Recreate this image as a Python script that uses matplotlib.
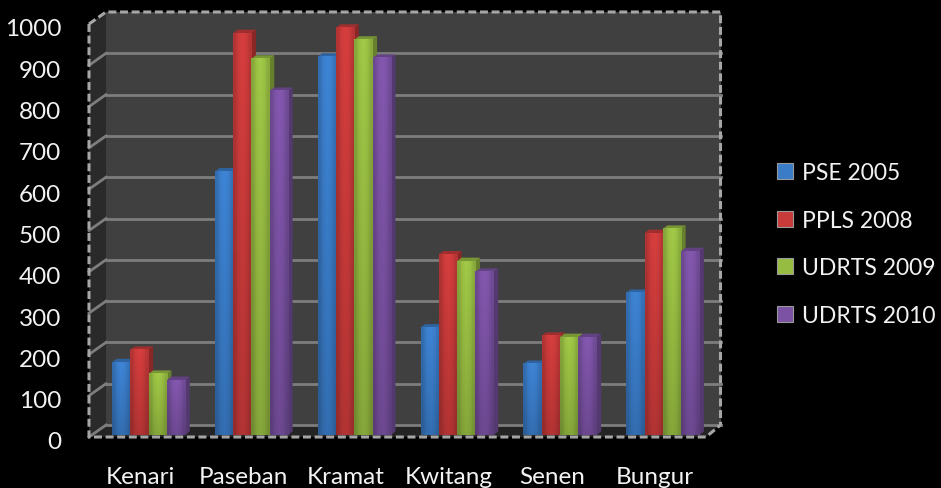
import matplotlib
matplotlib.use('Agg')
import matplotlib.pyplot as plt
import numpy as np
from matplotlib.patches import Polygon, Patch
from matplotlib.colors import to_rgb
from matplotlib.transforms import ScaledTranslation

plt.rcParams['font.family'] = ['Lato', 'DejaVu Sans']

categories = ['Kenari', 'Paseban', 'Kramat', 'Kwitang', 'Senen', 'Bungur']
pse_2005 = [176, 638, 916, 260, 172, 344]
ppls_2008 = [206, 973, 986, 437, 240, 489]
udrts_2009 = [148, 911, 957, 421, 237, 499]
udrts_2010 = [133, 833, 913, 395, 237, 445]
y_ticks = [0, 100, 200, 300, 400, 500, 600, 700, 800, 900, 1000]

series = [('PSE 2005', pse_2005, '#3a7cc8'),
          ('PPLS 2008', ppls_2008, '#c93a3a'),
          ('UDRTS 2009', udrts_2009, '#97bc42'),
          ('UDRTS 2010', udrts_2010, '#7b52a4')]

W, H = 941, 489
fig = plt.figure(figsize=(W / 100, H / 100), dpi=100, facecolor='black')
ax = fig.add_axes([89 / W, (H - 438) / H, 617 / W, 413 / H])
ax.set_facecolor('none')
ax.set_xlim(-0.5, 5.5)
ax.set_ylim(0, 1000)

# one category = 102.8 px, 100 units = 41.3 px
px = 1 / 102.8
py = 1000 / 413
dx, dy = 17 * px, 12 * py
x0, x1 = -0.5, 5.5
x_back = x1 + 14.5 * px
edge = '#a6a6a6'
grid = '#7d7d7d'


def poly(pts, color, z):
    ax.add_patch(Polygon(pts, closed=True, fc=color, ec='none', zorder=z, clip_on=False))


# walls
poly([(x0 + dx, dy), (x_back, dy), (x_back, 1000 + dy), (x0 + dx, 1000 + dy)], '#404040', 1)
poly([(x0, 0), (x0 + dx, dy), (x0 + dx, 1000 + dy), (x0, 1000)], '#2a2a2a', 1)
poly([(x0, 0), (x1, 0), (x_back, dy), (x0 + dx, dy)], '#242424', 1)

for t in y_ticks[1:-1]:
    ax.plot([x0 + dx, x_back], [t + dy, t + dy], color=grid, lw=2, zorder=2, clip_on=False)
for t in y_ticks[:-1]:
    ax.plot([x0, x0 + dx], [t, t + dy], color=grid, lw=2, zorder=2, clip_on=False)
ax.plot([x0 + dx, x_back], [dy, dy], color=grid, lw=2, zorder=2, clip_on=False)

# dashed frame
dash = dict(color=edge, lw=2.2, ls=(0, (2.6, 1.2)), zorder=3, clip_on=False)
ax.plot([x0, x0, x1, x_back], [1000, 0, 0, dy], **dash)
ax.plot([x0, x0 + dx, x_back, x_back], [1000, 1000 + dy, 1000 + dy, dy], **dash)

# bars
bar_w = 18.3 * px
bar_dx, bar_dy = 4.5 * px, 3.5 * py
base = 2 * py
start = -0.276
for s, (label, values, color) in enumerate(series):
    rgb = np.array(to_rgb(color))
    for i, v in enumerate(values):
        left = i + start + s * bar_w
        right = left + bar_w
        top = v + base
        poly([(right, base), (right + bar_dx, base + bar_dy), (right + bar_dx, top + bar_dy), (right, top)],
             rgb * 0.68, 4 + s)
        poly([(left, top), (right, top), (right + bar_dx, top + bar_dy), (left + bar_dx, top + bar_dy)],
             rgb * 0.8, 4 + s)
        ax.bar(left, v, width=bar_w, bottom=base, align='edge', color=color, zorder=4 + s, clip_on=False)
        # soft shading across and down the face
        across = np.array([0.86, 1.0, 1.04, 1.0, 0.88])
        down = np.linspace(1.03, 0.86, 24)[:, None]
        shade = np.clip(rgb[None, None, :] * (down * across)[:, :, None], 0, 1)
        ax.imshow(shade, extent=(left, right, base, top), aspect='auto', interpolation='bilinear',
                  origin='upper', zorder=4 + s, clip_on=False)

ax.set_xlim(-0.5, 5.5)
ax.set_ylim(0, 1000)

ax.set_xticks(range(len(categories)))
ax.set_xticklabels(categories)
ax.set_yticks(y_ticks)
ax.tick_params(axis='both', length=0, colors='#f2f2f2', labelsize=17.5)
ax.tick_params(axis='x', pad=21)
ax.tick_params(axis='y', pad=20)
down_shift = ScaledTranslation(0, -5 / 100, fig.dpi_scale_trans)
for lab in ax.get_yticklabels():
    lab.set_va('center')
    lab.set_transform(lab.get_transform() + down_shift)
for side in ax.spines.values():
    side.set_visible(False)

handles = [Patch(fc=c, ec='#9a9a9a', lw=0.8, label=l) for l, _, c in series]
fig.legend(handles=handles, loc='center left', bbox_to_anchor=(777 / W, (H - 245) / H),
           frameon=False, fontsize=16.5, labelcolor='#f2f2f2', handlelength=0.7, handleheight=0.7,
           handletextpad=0.38, labelspacing=1.17, borderpad=0, borderaxespad=0)

fig.savefig('out.png', dpi=100, facecolor='black')
